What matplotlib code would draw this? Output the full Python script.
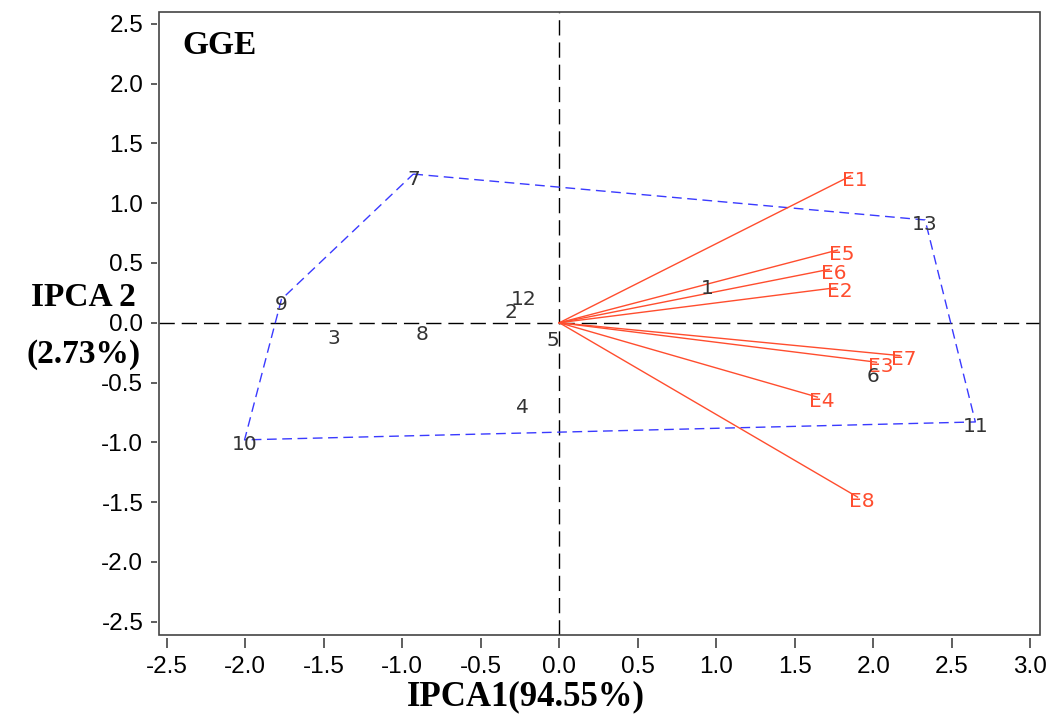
import numpy as np
import matplotlib.pyplot as plt
from matplotlib.patches import Rectangle
from matplotlib.ticker import FormatStrFormatter

# Genotype scores (IPCA1, IPCA2)
genotypes = ['1', '2', '3', '4', '5', '6', '7', '8', '9', '10', '11', '12', '13']
geno_x = [0.94, -0.31, -1.435, -0.234, -0.04, 2.00, -0.93, -0.874, -1.77, -2.005, 2.65, -0.23, 2.33]
geno_y = [0.33, 0.13, -0.09, -0.67, -0.105, -0.41, 1.244, -0.06, 0.196, -0.98, -0.83, 0.24, 0.86]

# Environment vectors
environments = ['E1', 'E2', 'E3', 'E4', 'E5', 'E6', 'E7', 'E8']
env_x = [1.855, 1.761, 2.02, 1.644, 1.772, 1.719, 2.17, 1.90]
env_y = [1.228, 0.293, -0.33, -0.622, 0.608, 0.447, -0.275, -1.459]

# Convex hull (polygon) genotypes, in drawing order
hull = ['7', '13', '11', '10', '9', '7']

ticks = [-2.5, -2.0, -1.5, -1.0, -0.5, 0.0, 0.5, 1.0, 1.5, 2.0, 2.5, 3.0]
yticks = [-2.5, -2.0, -1.5, -1.0, -0.5, 0.0, 0.5, 1.0, 1.5, 2.0, 2.5]

fig = plt.figure(figsize=(10.55, 7.2), dpi=100)
ax = fig.add_axes([0.151, 0.118, 0.8348, 0.865])
ax.set_xlim(-2.548, 3.062)
ax.set_ylim(-2.613, 2.598)

# reference lines through origin
dash = (0, (11, 5))
ax.axhline(0, color='black', lw=1.0, linestyle=dash, zorder=1)
ax.axvline(0, color='black', lw=1.0, linestyle=dash, zorder=1)

# polygon
idx = [genotypes.index(g) for g in hull]
ax.plot([geno_x[i] for i in idx], [geno_y[i] for i in idx],
        color='#3a3aff', lw=1.0, linestyle=(0, (7, 4)), zorder=2)

# environment vectors
env_col = '#ff4d2e'
for name, ex, ey in zip(environments, env_x, env_y):
    ax.plot([0, ex], [0, ey], color=env_col, lw=1.0, zorder=3)
    ax.annotate(name, (ex, ey), xytext=(3, -3), textcoords='offset points',
                ha='center', va='center', color=env_col, fontsize=14.5,
                family='DejaVu Sans', zorder=4)

# genotype labels
for name, gx, gy in zip(genotypes, geno_x, geno_y):
    ax.annotate(name, (gx, gy), xytext=(0, -3.6), textcoords='offset points',
                ha='center', va='center', color='#333333', fontsize=14.5,
                family='DejaVu Sans', zorder=4)

# frame and offset axes (SAS style)
for s in ax.spines.values():
    s.set_linewidth(0)
ax.spines['left'].set_position(('outward', 1.5))
ax.spines['bottom'].set_position(('outward', 2.2))
ax.add_patch(Rectangle((0, 0), 1, 1, transform=ax.transAxes, fill=False,
                       edgecolor='#444444', lw=1.2, clip_on=False, zorder=5))

ax.set_xticks(ticks)
ax.set_yticks(yticks)
ax.xaxis.set_major_formatter(FormatStrFormatter('%.1f'))
ax.yaxis.set_major_formatter(FormatStrFormatter('%.1f'))
ax.tick_params(axis='x', length=7.2, width=1.1, pad=5.5, color='#333333')
ax.tick_params(axis='y', length=4, width=1.1, pad=6, color='#333333')
for lab in ax.get_xticklabels() + ax.get_yticklabels():
    lab.set_family('Liberation Sans')
    lab.set_fontsize(17.5)

# titles / axis labels
ax.text(0.026, 0.947, 'GGE', transform=ax.transAxes, ha='left', va='center',
        fontsize=24, fontweight='bold', family='Liberation Serif')
fig.text(526 / 1055, 1 - 697 / 720, 'IPCA1(94.55%)', ha='center', va='center',
         fontsize=25, fontweight='bold', family='Liberation Serif')
fig.text(83 / 1055, 1 - 297 / 720, 'IPCA 2', ha='center', va='center',
         fontsize=24, fontweight='bold', family='Liberation Serif')
fig.text(84 / 1055, 1 - 354 / 720, '(2.73%)', ha='center', va='center',
         fontsize=24, fontweight='bold', family='Liberation Serif')

fig.savefig('out.png', dpi=100)
